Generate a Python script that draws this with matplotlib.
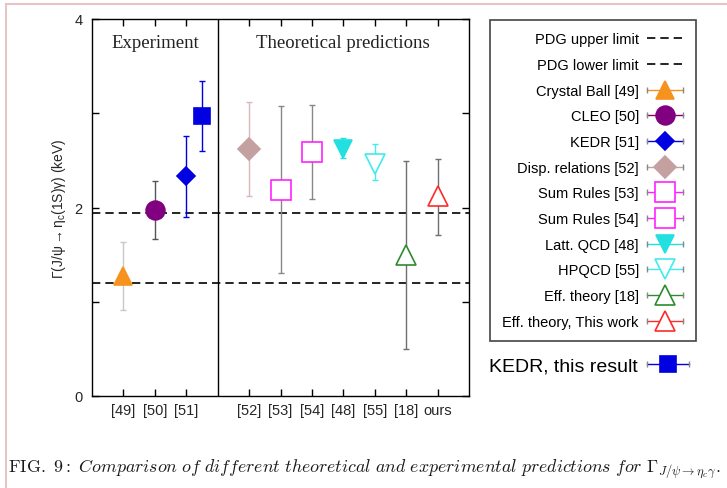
import numpy as np
import matplotlib
matplotlib.use("Agg")
import matplotlib.pyplot as plt
from matplotlib.lines import Line2D
from matplotlib.legend_handler import HandlerBase

plt.rcParams['font.family'] = ['Liberation Sans', 'DejaVu Sans']
plt.rcParams['mathtext.fontset'] = 'custom'
plt.rcParams['mathtext.rm'] = 'Liberation Sans'
plt.rcParams['mathtext.it'] = 'Liberation Sans'

# --- data (keV) ---
exp_refs = ["[49]", "[50]", "[51]"]
theo_refs = ["[52]", "[53]", "[54]", "[48]", "[55]", "[18]", "ours"]

exp_labels = ["Crystal Ball [49]", "CLEO [50]", "KEDR [51]"]
exp_vals = [1.27, 1.97, 2.33]
exp_err_lo = [0.36, 0.30, 0.43]
exp_err_hi = [0.36, 0.31, 0.43]

theo_labels = ["Disp. relations [52]", "Sum Rules [53]", "Sum Rules [54]",
               "Latt. QCD [48]", "HPQCD [55]", "Eff. theory [18]",
               "Eff. theory, This work"]
theo_vals = [2.62, 2.19, 2.59, 2.62, 2.46, 1.50, 2.12]
theo_err_lo = [0.50, 0.88, 0.50, 0.10, 0.17, 1.00, 0.41]
theo_err_hi = [0.50, 0.89, 0.50, 0.12, 0.21, 0.99, 0.39]

kedr_new_val = 2.97
kedr_new_err = 0.37

pdg_upper = 1.94
pdg_lower = 1.20

# --- styles: (marker, size, colour, fill, bar colour) ---
exp_style = [("^", 13, "#f5931e", "#f5931e", "#c8c8c8"),
             ("o", 13.5, "#800080", "#800080", "#555555"),
             ("D", 9, "#0000e0", "#0000e0", "#0000e0")]
theo_style = [("D", 11, "#c4a0a0", "#c4a0a0", "#d8b8b8"),
              ("s", 14.5, "#ff22ff", "white", "#888888"),
              ("s", 14.5, "#ff22ff", "white", "#888888"),
              ("v", 13.5, "#22e0e0", "#22e0e0", "#22e0e0"),
              ("v", 14.5, "#40ecec", "white", "#40ecec"),
              ("^", 15, "#2e8b2e", "white", "#707070"),
              ("^", 15, "#ff2a2a", "white", "#707070")]
kedr_new_style = ("s", 11.5, "#0000e0", "#0000e0", "#0000e0")


class CapHandler(HandlerBase):
    # horizontal line, end caps, marker in the middle
    def create_artists(self, legend, orig, xd, yd, w, h, fontsize, trans):
        y = h / 2 - yd
        x0, x1 = -xd, -xd + w
        c = orig.get_color()
        line = Line2D([x0, x1], [y, y], color=c, lw=1.0)
        caps = Line2D([x0, x1], [y, y], ls="none", marker="|", ms=5,
                      mew=1.0, color="#888888")
        mk = Line2D([(x0 + x1) / 2], [y], ls="none", marker=orig.get_marker(),
                    ms=orig.get_markersize(), mfc=orig.get_markerfacecolor(),
                    mec=orig.get_markeredgecolor(), mew=1.2)
        for a in (line, caps, mk):
            a.set_transform(trans)
        return [line, caps, mk]


fig = plt.figure(figsize=(7.27, 4.89), dpi=100)
ax = fig.add_axes([92 / 727, 1 - 397 / 489, 377 / 727, 377 / 489])

x_exp = np.arange(1, len(exp_vals) + 1)
x_theo = np.arange(5, 5 + len(theo_vals))
x_kedr_new = x_exp[-1] + 0.5


def draw_point(x, v, lo, hi, st):
    mk, ms, col, fc, bar = st
    eb = ax.errorbar([x], [v], yerr=[[lo], [hi]], fmt="none", ecolor=bar,
                     elinewidth=1.0, capsize=2.5, capthick=1.0, zorder=2)
    for cap in eb[1]:
        cap.set_color(col)
    ax.plot([x], [v], ls="none", marker=mk, ms=ms, mfc=fc, mec=col,
            mew=1.2, zorder=3)
    return Line2D([], [], color=col, marker=mk, ms=ms, mfc=fc, mec=col)


ax.axhline(pdg_upper, color="black", lw=1.2, ls=(0, (5, 3)), zorder=1)
ax.axhline(pdg_lower, color="black", lw=1.2, ls=(0, (5, 3)), zorder=1)
ax.axvline(4, color="black", lw=1.0)

handles = [Line2D([], [], color="black", lw=1.2, ls=(0, (5, 3))),
           Line2D([], [], color="black", lw=1.2, ls=(0, (5, 3)))]
labels = ["PDG upper limit", "PDG lower limit"]

for i in range(len(exp_vals)):
    handles.append(draw_point(x_exp[i], exp_vals[i], exp_err_lo[i],
                              exp_err_hi[i], exp_style[i]))
    labels.append(exp_labels[i])
for i in range(len(theo_vals)):
    handles.append(draw_point(x_theo[i], theo_vals[i], theo_err_lo[i],
                              theo_err_hi[i], theo_style[i]))
    labels.append(theo_labels[i])
kedr_h = draw_point(x_kedr_new, kedr_new_val, kedr_new_err, kedr_new_err,
                    kedr_new_style)

ax.set_xlim(0, 12)
ax.set_ylim(0, 4)
ax.set_xticks(list(x_exp) + list(x_theo))
ax.set_xticklabels(exp_refs + theo_refs)
ax.set_yticks([0, 1, 2, 3, 4])
ax.set_yticklabels(["0", "", "2", "", "4"])
ax.tick_params(direction="in", top=True, right=True, length=5, width=1,
               labelsize=10.5, labelcolor="#262626")
ax.tick_params(axis="x", pad=5)
ax.tick_params(axis="y", pad=7)
for s in ax.spines.values():
    s.set_linewidth(1.0)

ax.text(2, 3.75, "Experiment", ha="center", va="center", fontsize=13.5,
        family="Liberation Serif", color="#222222")
ax.text(8, 3.75, "Theoretical predictions", ha="center", va="center",
        fontsize=13.5, family="Liberation Serif", color="#222222")

ax.set_ylabel(r"$\Gamma(J/\psi \rightarrow \eta_c(1S)\gamma)$ (keV)",
              fontsize=10, color="#262626", labelpad=4)

leg = fig.legend(handles, labels, loc="upper left",
                 bbox_to_anchor=(490 / 727, 1 - 21 / 489),
                 borderaxespad=0, markerfirst=False, fontsize=10.5,
                 fancybox=False, edgecolor="#444444", framealpha=1,
                 handlelength=2.5, handletextpad=0.55, borderpad=0.85,
                 labelspacing=0.8,
                 handler_map={h: CapHandler() for h in handles[2:]})
leg.get_frame().set_linewidth(1.2)

fig.legend([kedr_h], ["KEDR, this result"], loc="upper left",
           bbox_to_anchor=(489 / 727, 1 - 358 / 489), borderaxespad=0,
           borderpad=0, frameon=False, markerfirst=False, fontsize=14,
           handlelength=2.2, handletextpad=0.45,
           handler_map={kedr_h: CapHandler()})

fig.text(8 / 727, 1 - 469 / 489,
         r"$\mathrm{FIG.\ 9{:}\ }\mathit{Comparison\ of\ different\ theoretical"
         r"\ and\ experimental\ predictions\ for\ }"
         r"\Gamma_{J/\psi\rightarrow\eta_c\gamma}.$",
         math_fontfamily="cm", fontsize=12.9, va="center", ha="left",
         color="#1a1a1a")

# pink slide frame
fig.add_artist(Line2D([6 / 727, 6 / 727], [0, 1 - 5 / 489],
                      transform=fig.transFigure, color="#e8c4c4", lw=1.5))
fig.add_artist(Line2D([6 / 727, 1], [1 - 5 / 489, 1 - 5 / 489],
                      transform=fig.transFigure, color="#e8c4c4", lw=1.5))

fig.savefig("out.png", dpi=100)
